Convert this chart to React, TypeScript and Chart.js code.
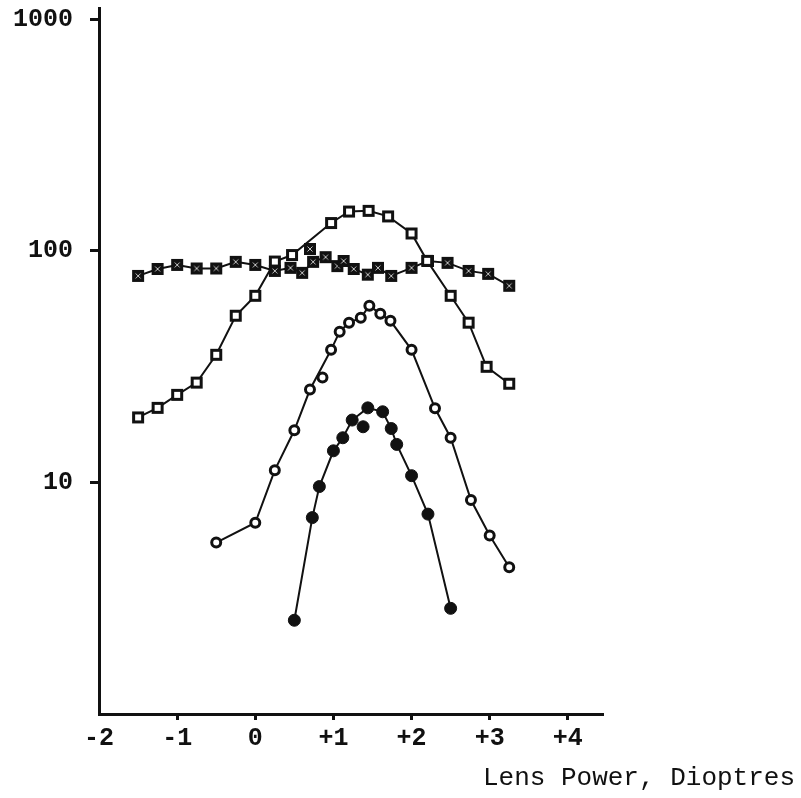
import React, { useEffect, useRef } from "react";
import { Chart, registerables } from "chart.js";

Chart.register(...registerables);

// Axis ticks and labels
const xTickValues = [-2, -1, 0, 1, 2, 3, 4];
const xTickLabels = ["-2", "-1", "0", "+1", "+2", "+3", "+4"];
const yTickValues = [10, 100, 1000];
const yTickLabels = ["10", "100", "1000"];
const xAxisTitle = "Lens Power, Dioptres";

// Hatched squares: nearly flat response
const hatchedPower = [-1.5, -1.25, -1, -0.75, -0.5, -0.25, 0, 0.25, 0.45, 0.6, 0.74, 0.9, 1.05, 1.13, 1.26, 1.44, 1.57, 1.74, 2.0, 2.21, 2.46, 2.73, 2.98, 3.25];
const hatchedValue = [78, 83.6, 87, 84, 84, 89.7, 87, 82, 84.5, 80.4, 89.7, 94, 86, 90.5, 83.6, 79, 84.5, 78, 84.5, 90.5, 88.8, 82, 79.6, 70.7];
const hatchedStrayPower = [0.7];
const hatchedStrayValue = [102];

// Open squares
const openSquarePower = [-1.5, -1.25, -1, -0.75, -0.5, -0.25, 0, 0.25, 0.47, 0.97, 1.2, 1.45, 1.7, 2.0, 2.2, 2.5, 2.73, 2.96, 3.25];
const openSquareValue = [19.1, 21, 23.9, 27, 35.6, 52.5, 64, 90, 96, 132, 148, 149, 141, 119, 90.6, 64, 49, 31.6, 26.7];

// Open circles
const openCirclePower = [-0.5, 0, 0.25, 0.5, 0.7, 0.97, 1.08, 1.2, 1.35, 1.46, 1.6, 1.73, 2.0, 2.3, 2.5, 2.76, 3.0, 3.25];
const openCircleValue = [5.5, 6.7, 11.3, 16.8, 25.2, 37.4, 44.8, 49, 51.4, 58, 53.5, 49.9, 37.4, 20.9, 15.6, 8.4, 5.9, 4.3];
const openCircleStrayPower = [0.86];
const openCircleStrayValue = [28.4];

// Filled circles
const filledCirclePower = [0.5, 0.73, 0.82, 1.0, 1.12, 1.24, 1.44, 1.63, 1.74, 1.81, 2.0, 2.21, 2.5];
const filledCircleValue = [2.54, 7.05, 9.6, 13.7, 15.6, 18.6, 21, 20.2, 17.1, 14.6, 10.7, 7.3, 2.86];
const filledCircleStrayPower = [1.38];
const filledCircleStrayValue = [17.4];

const INK = "#111";
const FONT = "'Liberation Mono', 'Courier New', monospace";

function pairs(xs: number[], ys: number[]) {
  return xs.map((x, i) => ({ x, y: ys[i] }));
}

function squareMarker(hatched: boolean): HTMLCanvasElement {
  const c = document.createElement("canvas");
  c.width = 16;
  c.height = 16;
  const g = c.getContext("2d")!;
  if (hatched) {
    g.fillStyle = INK;
    g.fillRect(2, 2, 12, 12);
    g.strokeStyle = "rgba(255,255,255,0.75)";
    g.lineWidth = 1;
    g.beginPath();
    g.moveTo(5.5, 5.5);
    g.lineTo(10.5, 10.5);
    g.moveTo(10.5, 5.5);
    g.lineTo(5.5, 10.5);
    g.stroke();
  } else {
    g.fillStyle = "#fff";
    g.fillRect(2, 2, 12, 12);
    g.strokeStyle = INK;
    g.lineWidth = 3;
    g.strokeRect(3.5, 3.5, 9, 9);
  }
  return c;
}

const axisTitlePlugin = {
  id: "axisTitleText",
  afterDraw(chart: any) {
    const { ctx } = chart;
    ctx.save();
    ctx.fillStyle = INK;
    ctx.font = `26px ${FONT}`;
    ctx.textAlign = "right";
    ctx.textBaseline = "middle";
    ctx.fillText(xAxisTitle, chart.width - 6, 778);
    ctx.restore();
  },
};

export default function App() {
  const ref = useRef<HTMLCanvasElement | null>(null);

  useEffect(() => {
    if (!ref.current) return;
    const hatched = squareMarker(true);
    const openSq = squareMarker(false);

    const lineSet = (data: any[], style: any) => ({
      data,
      showLine: true,
      borderColor: INK,
      borderWidth: 2,
      tension: 0,
      ...style,
    });

    const chart = new Chart(ref.current, {
      type: "scatter",
      data: {
        datasets: [
          lineSet(pairs(filledCirclePower, filledCircleValue), {
            pointStyle: "circle",
            pointRadius: 6,
            pointBackgroundColor: INK,
            pointBorderColor: INK,
            pointBorderWidth: 1,
          }),
          {
            data: pairs(filledCircleStrayPower, filledCircleStrayValue),
            showLine: false,
            pointStyle: "circle",
            pointRadius: 6,
            pointBackgroundColor: INK,
            pointBorderColor: INK,
            pointBorderWidth: 1,
          },
          lineSet(pairs(openCirclePower, openCircleValue), {
            pointStyle: "circle",
            pointRadius: 4.5,
            pointBackgroundColor: "#fff",
            pointBorderColor: INK,
            pointBorderWidth: 3,
          }),
          {
            data: pairs(openCircleStrayPower, openCircleStrayValue),
            showLine: false,
            pointStyle: "circle",
            pointRadius: 4.5,
            pointBackgroundColor: "#fff",
            pointBorderColor: INK,
            pointBorderWidth: 3,
          },
          lineSet(pairs(openSquarePower, openSquareValue), {
            pointStyle: openSq,
            pointRadius: 6,
          }),
          lineSet(pairs(hatchedPower, hatchedValue), {
            pointStyle: hatched,
            pointRadius: 6,
          }),
          {
            data: pairs(hatchedStrayPower, hatchedStrayValue),
            showLine: false,
            pointStyle: hatched,
            pointRadius: 6,
          },
        ],
      },
      options: {
        animation: false,
        responsive: false,
        events: [],
        layout: { padding: { top: 8, right: 198, left: 0, bottom: 0 } },
        plugins: {
          legend: { display: false },
          tooltip: { enabled: false },
        },
        scales: {
          x: {
            type: "linear",
            min: -2,
            max: 4.45,
            afterBuildTicks: (s: any) => {
              s.ticks = xTickValues.map((v) => ({ value: v }));
            },
            afterFit: (s: any) => {
              s.height = 84;
              s.paddingLeft = 0;
              s.paddingRight = 0;
            },
            border: { display: true, color: INK, width: 3 },
            grid: {
              display: true,
              drawOnChartArea: false,
              drawTicks: true,
              tickLength: 6,
              tickWidth: 3,
              tickColor: (c: any) => (c.index === 0 ? "rgba(0,0,0,0)" : INK),
            },
            ticks: {
              color: INK,
              padding: 4,
              maxRotation: 0,
              autoSkip: false,
              font: { family: FONT, size: 25, weight: "bold" },
              callback: (_v: any, i: number) => xTickLabels[i],
            },
          },
          y: {
            type: "logarithmic",
            min: 1,
            max: 1120,
            afterBuildTicks: (s: any) => {
              s.ticks = yTickValues.map((v) => ({ value: v }));
            },
            afterFit: (s: any) => {
              s.width = 99;
              s.paddingTop = 0;
              s.paddingBottom = 0;
            },
            border: { display: true, color: INK, width: 3 },
            grid: {
              display: true,
              drawOnChartArea: false,
              drawTicks: true,
              tickLength: 9,
              tickWidth: 3,
              tickColor: INK,
            },
            ticks: {
              color: INK,
              padding: 17,
              autoSkip: false,
              font: { family: FONT, size: 25, weight: "bold" },
              callback: (_v: any, i: number) => yTickLabels[i],
            },
          },
        },
      },
      plugins: [axisTitlePlugin],
    } as any);

    return () => chart.destroy();
  }, []);

  return (
    <div style={{ position: "fixed", left: 0, top: 0, width: 801, height: 798, background: "#fff" }}>
      <canvas ref={ref} width={801} height={798} style={{ display: "block", width: 801, height: 798 }} />
    </div>
  );
}
